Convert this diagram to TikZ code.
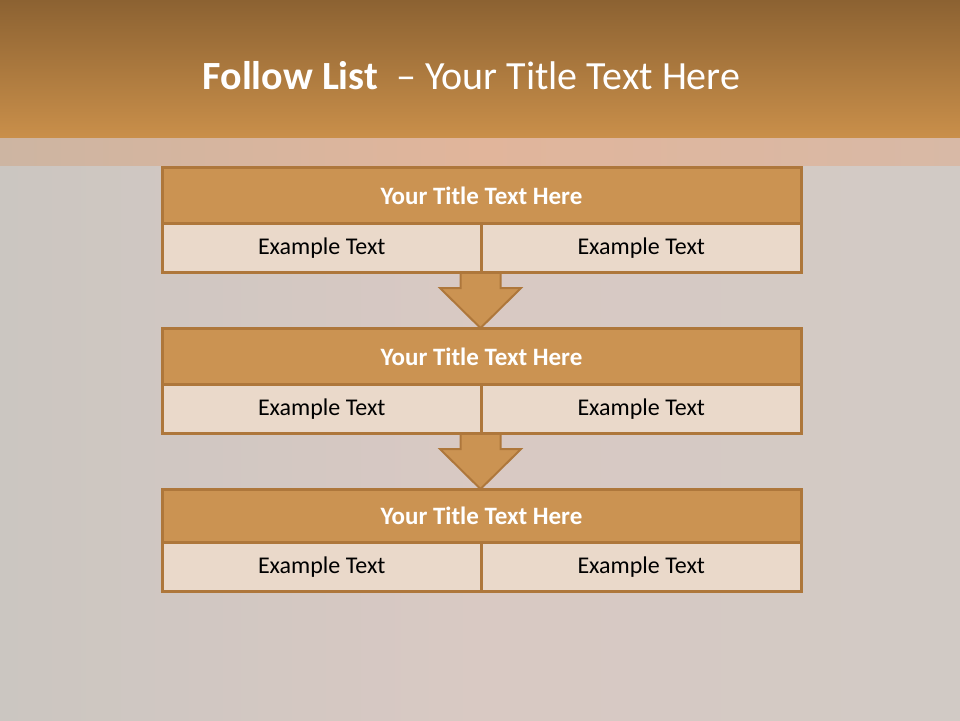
\documentclass[tikz,border=0pt]{standalone}
\usepackage{fontspec}
\setmainfont{Carlito}
\definecolor{hdtop}{HTML}{8C6232}
\definecolor{hdbot}{HTML}{C98F4A}
\definecolor{bgl}{HTML}{CBC6C1}
\definecolor{bgm}{HTML}{D9C9C3}
\definecolor{bgr}{HTML}{D1CAC5}
\definecolor{stl}{HTML}{CDB5A2}
\definecolor{stm}{HTML}{E1B59B}
\definecolor{str}{HTML}{D8B9A6}
\definecolor{tfill}{HTML}{CB9352}
\definecolor{bord}{HTML}{AE773B}
\definecolor{cfill}{HTML}{EAD9CA}
\tikzset{
  titlebox/.style={draw=bord, line width=3pt, fill=tfill, anchor=north west, inner sep=0pt,
    minimum width=639pt, text=white, font=\fontsize{25}{30}\selectfont\bfseries},
  cellbox/.style={draw=bord, line width=3pt, fill=cfill, anchor=north west, inner sep=0pt,
    minimum width=319.5pt, text=black, font=\fontsize{24}{29}\selectfont},
  arrowbox/.style={draw=bord, line width=2pt, fill=tfill, line join=miter},
}
\begin{document}
\begin{tikzpicture}[x=1pt,y=-1pt]
\useasboundingbox (0,0) rectangle (960,720);
% background
\shade[left color=bgl, right color=bgr, middle color=bgm] (0,0) rectangle (960,720);
\shade[left color=stl, right color=str, middle color=stm] (0,137) rectangle (960,165);
\shade[top color=hdtop, bottom color=hdbot] (0,0) rectangle (960,137);
\node[text=white, inner sep=0pt] (title) at (471.5,76)
  {\fontsize{40}{48}\selectfont\textbf{Follow List}\ \ – Your Title Text Here};

% arrows
\draw[arrowbox] (480.5,328) coordinate (tipA) -- ++(-40.5,-40) -- ++(20.5,0) -- ++(0,-17) -- ++(40,0) -- ++(0,17) -- ++(20.5,0) -- cycle;
\draw[arrowbox] (480.5,489) coordinate (tipB) -- ++(-40.5,-40) -- ++(20.5,0) -- ++(0,-17) -- ++(40,0) -- ++(0,17) -- ++(20.5,0) -- cycle;

% block 1
\node[titlebox, minimum height=56pt] (t1) at (160.5,166) {Your Title Text Here};
\node[cellbox, minimum height=49pt] (a1) at (160.5,222) {Example Text};
\node[cellbox, minimum height=49pt] (b1) at (480,222) {Example Text};
% block 2
\node[titlebox, minimum height=56pt] (t2) at (160.5,327) {Your Title Text Here};
\node[cellbox, minimum height=49pt] (a2) at (160.5,383) {Example Text};
\node[cellbox, minimum height=49pt] (b2) at (480,383) {Example Text};
% block 3
\node[titlebox, minimum height=53pt] (t3) at (160.5,488) {Your Title Text Here};
\node[cellbox, minimum height=49pt] (a3) at (160.5,541) {Example Text};
\node[cellbox, minimum height=49pt] (b3) at (480,541) {Example Text};
\end{tikzpicture}
\end{document}
